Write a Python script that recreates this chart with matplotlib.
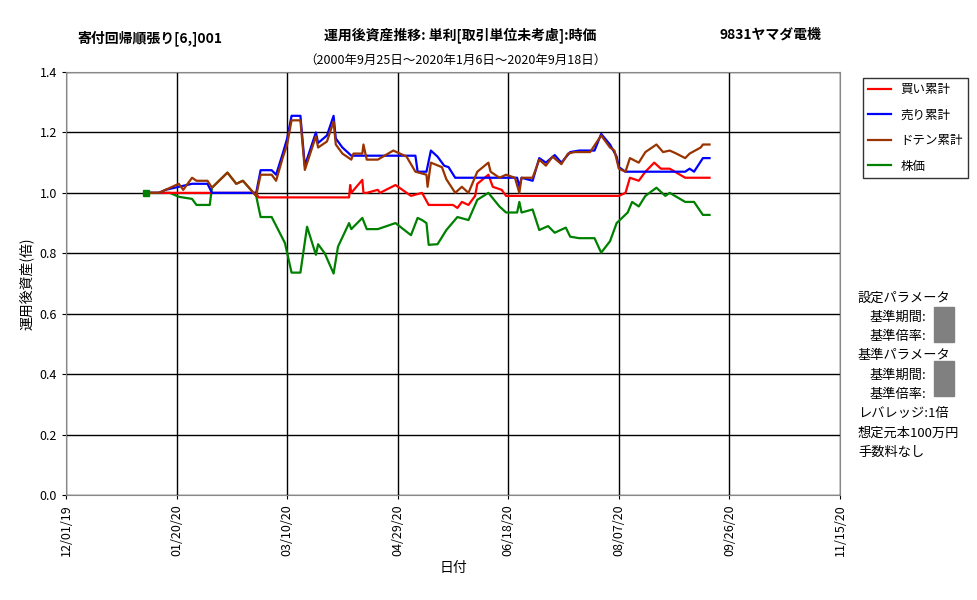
import matplotlib
matplotlib.use("Agg")
import matplotlib.pyplot as plt
import matplotlib.dates as mdates
import pandas as pd

plt.rcParams['font.family'] = ['Noto Sans CJK JP', 'DejaVu Sans']

base = pd.Timestamp("2019-12-01")

buy_days = [36,86,87,128,128.5,129,134,134.5,136,141,142,149,156,161,164,175,177,179,182,185,186,191,193,197,199,250,253,255,259,262,266,269,273,280,291]
buy_vals = [1.0,1.0,.985,.985,1.026,1.0,1.043,1.0,1.0,1.01,1.0,1.026,.99,1.0,.96,.96,.95,.97,.96,.99,1.03,1.06,1.02,1.01,.99,.99,1.0,1.05,1.04,1.07,1.10,1.08,1.08,1.05,1.05]

sell_days = [36,42,45,51,57,64,66,86,88,93,95,98,100,102,106,108,113,114,118,121,122,125,128,129,158,159,163,165,168,171,173,176,199,204,205,206,211,214,217,221,224,228,232,239,242,246,249,250,253,280,282,284,288,291]
sell_vals = [1.0,1.0,1.01,1.02,1.03,1.03,1.0,1.0,1.075,1.075,1.06,1.13,1.18,1.255,1.255,1.09,1.20,1.165,1.19,1.255,1.18,1.15,1.13,1.123,1.123,1.07,1.07,1.14,1.12,1.09,1.085,1.05,1.05,1.05,1.02,1.05,1.04,1.115,1.10,1.125,1.10,1.135,1.14,1.14,1.195,1.16,1.12,1.085,1.07,1.07,1.08,1.07,1.115,1.115]

doten_days = [36,42,45,51,53,57,59,64,66,73,77,80,86,88,93,95,98,100,102,106,108,113,114,118,121,122,125,129,130,134,134.5,136,141,148,154,158,163,163.5,165,170,172,176,179,182,186,191,192,196,199,203,205,206,211,214,217,220,224,227,230,237,242,246,248,250,253,255,259,262,267,270,273,276,280,282,287,288,291]
doten_vals = [1.0,1.0,1.01,1.03,1.01,1.05,1.04,1.04,1.017,1.067,1.03,1.04,.99,1.06,1.06,1.04,1.116,1.16,1.24,1.24,1.076,1.187,1.15,1.17,1.236,1.16,1.13,1.11,1.13,1.13,1.16,1.11,1.11,1.14,1.12,1.07,1.06,1.02,1.10,1.085,1.045,1.0,1.02,1.0,1.07,1.10,1.07,1.05,1.06,1.05,1.0,1.05,1.05,1.11,1.09,1.12,1.095,1.13,1.135,1.135,1.19,1.15,1.14,1.08,1.07,1.115,1.10,1.135,1.16,1.135,1.14,1.13,1.115,1.13,1.15,1.16,1.16]

price_days = [36,47,51,57,59,65,66,73,77,80,86,88,93,99,102,106,109,113,114,117,121,123,128,129,134,136,141,149,156,159,161,163,164,168,172,177,182,186,191,196,199,204,205,206,211,214,218,221,226,228,232,239,242,246,249,254,256,259,262,267,271,273,280,284,288,291]
price_vals = [1.0,1.0,.987,.98,.96,.96,1.017,1.067,1.03,1.04,.99,.92,.92,.834,.736,.736,.888,.795,.83,.80,.733,.822,.90,.88,.917,.88,.88,.90,.86,.917,.91,.90,.828,.83,.877,.92,.91,.977,1.0,.955,.935,.935,.97,.935,.945,.877,.89,.868,.885,.855,.85,.85,.802,.84,.90,.935,.97,.955,.99,1.017,.99,1.0,.97,.97,.927,.927]

labels = ["買い累計", "売り累計", "ドテン累計", "株価"]
colors = ["#ff0000", "#0000ff", "#993300", "#008000"]

def to_dates(days):
    return [base + pd.Timedelta(days=d) for d in days]

fig = plt.figure(figsize=(9.77, 6.0), dpi=100)
ax = fig.add_axes([66/977, 105/600, 774/977, 423/600])

series = [(buy_days, buy_vals), (sell_days, sell_vals), (doten_days, doten_vals), (price_days, price_vals)]
order = [3, 0, 1, 2]
handles = {}
for i in order:
    d, v = series[i]
    h, = ax.plot(to_dates(d), v, color=colors[i], lw=1.6, label=labels[i])
    handles[i] = h
ax.plot(to_dates(price_days[:1]), price_vals[:1], marker='s', color=colors[3], ms=4)

ticks = pd.date_range("2019-12-01", periods=8, freq="50D")
ax.set_xlim(ticks[0], ticks[-1])
ax.set_xticks(ticks)
ax.xaxis.set_major_formatter(mdates.DateFormatter("%m/%d/%y"))
plt.setp(ax.get_xticklabels(), rotation=90, fontsize=9)
ax.set_ylim(0, 1.4)
ax.set_yticks([i * 0.2 for i in range(8)])
ax.set_yticklabels([f"{i*0.2:.1f}" for i in range(8)], fontsize=9)
ax.grid(True, color="black", lw=1)
for s in ax.spines.values():
    s.set_color("#888888")
ax.tick_params(length=3, colors="black")
ax.set_xlabel("日付", fontsize=10)
ax.set_ylabel("運用後資産(倍)", fontsize=10)

fig.text(150/977, 1 - 38/600, "寄付回帰順張り[6,]001", ha="center", va="center", fontsize=10, weight="bold")
fig.text(460/977, 1 - 35/600, "運用後資産推移: 単利[取引単位未考慮]:時価", ha="center", va="center", fontsize=10, weight="bold")
fig.text(455/977, 1 - 60/600, "（2000年9月25日～2020年1月6日～2020年9月18日）", ha="center", va="center", fontsize=9)
fig.text(770/977, 1 - 35/600, "9831ヤマダ電機", ha="center", va="center", fontsize=10, weight="bold")

leg = fig.legend([handles[i] for i in range(4)], labels, loc="upper left",
                 bbox_to_anchor=(857/977, 1 - 72/600), fontsize=9, frameon=True,
                 fancybox=False, edgecolor="black", handlelength=1.8, labelspacing=1.0)
leg.get_frame().set_linewidth(1)

lines = [("設定パラメータ", 858), ("基準期間:", 870), ("基準倍率:", 870), ("基準パラメータ", 858),
         ("基準期間:", 870), ("基準倍率:", 870), ("レバレッジ:1倍", 858), ("想定元本100万円", 858), ("手数料なし", 858)]
y0 = 298
for k, (t, x) in enumerate(lines):
    fig.text(x/977, 1 - (y0 + k*19.3)/600, t, ha="left", va="center", fontsize=9.5)
for yb in [307, 361]:
    fig.patches.append(plt.Rectangle((934/977, 1 - (yb + 35)/600), 20/977, 35/600,
                                     transform=fig.transFigure, color="#808080"))

fig.savefig("out.png", dpi=100)
